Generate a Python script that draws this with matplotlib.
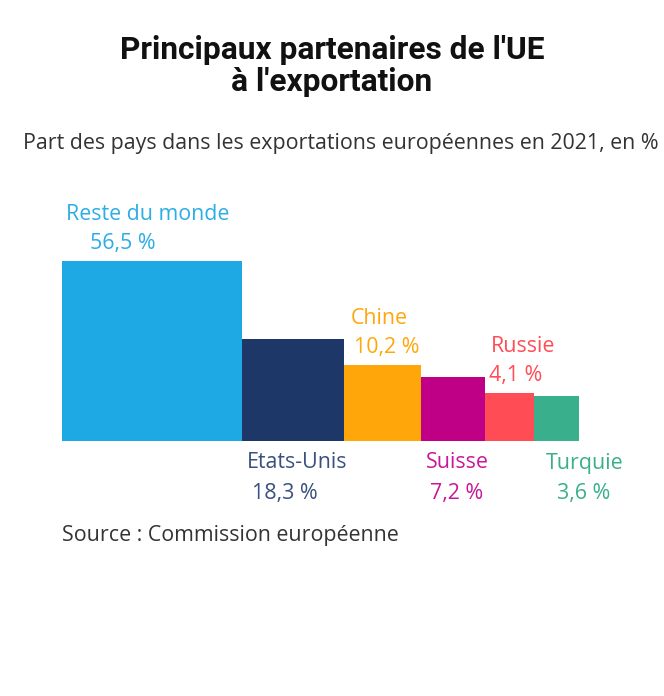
import numpy as np
import matplotlib
matplotlib.use("Agg")
import matplotlib.pyplot as plt

# Données : part des pays dans les exportations de l'UE en 2021 (%)
pays = ["Reste du monde", "Etats-Unis", "Chine", "Suisse", "Russie", "Turquie"]
parts = [56.5, 18.3, 10.2, 7.2, 4.1, 3.6]
couleurs_barres = ["#1EA9E5", "#1D3769", "#FFA70A", "#BF0087", "#FF4C55", "#3AAF8B"]
couleurs_textes = ["#2BADE6", "#3A5080", "#FFA70A", "#C8179A", "#FF4C55", "#3AAF8B"]

# position des étiquettes (au-dessus / en dessous) et petits décalages en pixels
position = ["haut", "bas", "haut", "bas", "haut", "bas"]
dx_nom = [4, 5, 6, 5, 6, 12]
dx_val = [28, 10, 10, 9, 4, 23]

W, H = 664, 696
fig = plt.figure(figsize=(W / 100, H / 100), dpi=100)
plt.rcParams["font.family"] = ["Open Sans", "DejaVu Sans"]

# carrés dont l'aire est proportionnelle à la part
cotes = np.sqrt(parts)
gauches = np.concatenate([[0], np.cumsum(cotes)[:-1]])
k = 23.95  # pixels par unité
larg_u, haut_u = 24, 10
ax = fig.add_axes([62 / W, (H - 441) / H, larg_u * k / W, haut_u * k / H])
ax.bar(gauches, cotes, width=cotes, align="edge", color=couleurs_barres)
ax.set_xlim(0, larg_u)
ax.set_ylim(0, haut_u)
ax.axis("off")

for i, nom in enumerate(pays):
    val = f"{parts[i]:.1f}".replace(".", ",") + " %"
    if position[i] == "haut":
        y0 = cotes[i]
        dy_nom, dy_val = 46, 17
    else:
        y0 = 0
        dy_nom, dy_val = -22, -52
    ax.annotate(nom, (gauches[i], y0), xytext=(dx_nom[i], dy_nom),
                textcoords="offset pixels", ha="left", va="center",
                fontsize=15.4, color=couleurs_textes[i])
    ax.annotate(val, (gauches[i], y0), xytext=(dx_val[i], dy_val),
                textcoords="offset pixels", ha="left", va="center",
                fontsize=15.4, color=couleurs_textes[i])

# titres et source
fig.text(0.5, 1 - 66 / H, "Principaux partenaires de l'UE\nà l'exportation",
         ha="center", va="center", fontsize=22.8, fontweight="bold",
         family=["Roboto", "DejaVu Sans"], color="#111111", linespacing=1.1)
fig.text(341 / W, 1 - 143 / H,
         "Part des pays dans les exportations européennes en 2021, en %",
         ha="center", va="center", fontsize=15.4, color="#333333")
fig.text(62 / W, 1 - 535 / H, "Source : Commission européenne",
         ha="left", va="center", fontsize=15.4, color="#333333")

fig.savefig("out.png", dpi=100)
